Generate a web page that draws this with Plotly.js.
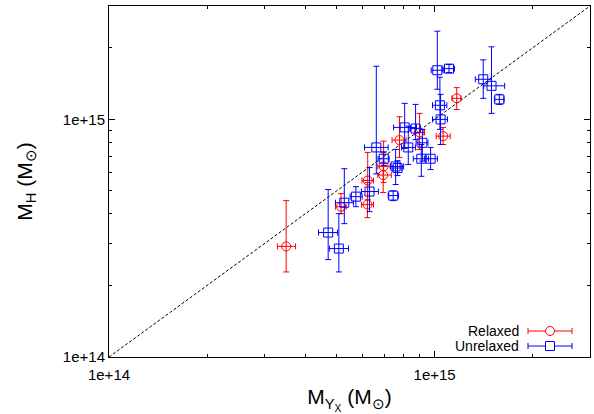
<!DOCTYPE html>
<html>
<head>
<meta charset="utf-8">
<script src="https://cdn.plot.ly/plotly-3.0.1.min.js"></script>
<style>html,body{margin:0;padding:0;background:#fff;}#chart{width:594px;height:414px;}</style>
</head>
<body>
<div id="chart"></div>
<script>
// Values in units of 1e14 solar masses
var relaxedX   = [3.50, 5.16, 6.23, 6.22, 6.97, 6.95, 7.80, 8.99, 10.62, 11.69];
var relaxedY   = [2.92, 4.29, 5.53, 4.38, 6.34, 5.83, 8.18, 8.81, 8.50, 12.26];
var relaxedXlo = [3.29, 4.96, 5.98, 5.96, 6.69, 6.69, 7.40, 8.67, 10.11, 11.30];
var relaxedXhi = [3.74, 5.35, 6.49, 6.49, 7.30, 7.36, 8.17, 9.31, 11.16, 12.05];
var relaxedYlo = [2.28, 4.01, 4.59, 3.86, 5.42, 4.92, 6.92, 7.47, 7.84, 11.00];
var relaxedYhi = [4.55, 4.87, 7.26, 5.42, 8.10, 7.26, 10.26, 10.60, 9.25, 13.60];

var unrelaxedX   = [4.71, 5.08, 5.28, 5.73, 6.31, 6.62, 6.98, 7.46, 7.59, 7.69, 8.09, 8.74, 8.30, 9.17, 9.10, 9.72, 10.19, 11.07, 10.38, 10.43, 14.10, 14.95, 15.80];
var unrelaxedY   = [3.34, 2.86, 4.46, 4.73, 4.97, 7.62, 6.83, 4.78, 6.34, 6.24, 9.25, 9.15, 7.62, 7.97, 6.83, 6.83, 16.10, 16.35, 11.46, 10.00, 14.75, 13.84, 12.14];
var unrelaxedXlo = [4.40, 4.75, 4.96, 5.50, 5.96, 6.09, 6.70, 7.20, 7.32, 7.45, 7.48, 8.43, 7.91, 8.77, 8.60, 9.30, 9.76, 10.60, 9.85, 9.85, 13.33, 14.15, 15.26];
var unrelaxedXhi = [5.03, 5.44, 5.63, 5.99, 6.72, 7.20, 7.25, 7.74, 8.03, 7.95, 8.80, 9.05, 8.74, 9.54, 9.57, 10.20, 10.62, 11.50, 10.90, 10.95, 14.93, 16.41, 16.34];
var unrelaxedYlo = [2.57, 2.28, 3.64, 4.29, 4.09, 5.90, 6.40, 4.55, 5.32, 5.80, 7.55, 8.22, 6.46, 6.67, 5.76, 6.15, 13.39, 15.74, 9.08, 7.84, 12.26, 10.60, 11.56];
var unrelaxedYhi = [5.07, 4.01, 6.20, 5.21, 6.27, 16.74, 7.30, 5.00, 7.47, 6.70, 11.68, 11.56, 9.37, 9.08, 7.84, 7.62, 23.50, 17.02, 15.04, 12.74, 17.80, 20.20, 12.74];

var unit = 1e14;
var diagonal = [1e14, 1e16];
var majorTicks = [1e14, 1e15];
var majorTickText = ['1e+14', '1e+15'];
var minorTicks = [2e14, 3e14, 4e14, 5e14, 6e14, 7e14, 8e14, 9e14, 2e15, 3e15];

function scale(a){ return a.map(function(v){ return v * unit; }); }
function diff(a, b){ return a.map(function(v, i){ return (v - b[i]) * unit; }); }

var RED = '#ff0000', BLUE = '#0000ff';

function seriesTrace(name, X, Y, Xlo, Xhi, Ylo, Yhi, color, symbol){
  return {
    type: 'scatter', mode: 'markers', name: name, showlegend: false,
    x: scale(X), y: scale(Y),
    marker: {symbol: symbol, size: 9, color: color, line: {color: color, width: 1}},
    error_x: {type: 'data', symmetric: false, array: diff(Xhi, X), arrayminus: diff(X, Xlo), color: color, thickness: 1, width: 3},
    error_y: {type: 'data', symmetric: false, array: diff(Yhi, Y), arrayminus: diff(Y, Ylo), color: color, thickness: 1, width: 3},
    cliponaxis: true
  };
}

var traces = [
  {type: 'scatter', mode: 'lines', x: diagonal, y: diagonal, showlegend: false, hoverinfo: 'skip',
   line: {color: '#000', width: 1, dash: '3px,2px'}},
  seriesTrace('Relaxed', relaxedX, relaxedY, relaxedXlo, relaxedXhi, relaxedYlo, relaxedYhi, RED, 'circle-open'),
  seriesTrace('Unrelaxed', unrelaxedX, unrelaxedY, unrelaxedXlo, unrelaxedXhi, unrelaxedYlo, unrelaxedYhi, BLUE, 'square-open')
];

var font = {family: '"Liberation Sans", Arial, sans-serif', color: '#000'};
function axis(titleText){
  return {
    type: 'log', range: [14, Math.log10(3e15)],
    tickmode: 'array', tickvals: majorTicks, ticktext: majorTickText,
    ticks: 'inside', ticklen: 6, tickwidth: 1, tickcolor: '#000',
    minor: {tickmode: 'array', tickvals: minorTicks, ticks: 'inside', ticklen: 3, tickwidth: 1, tickcolor: '#000', showgrid: false},
    showline: true, linecolor: '#000', linewidth: 1, mirror: 'ticks',
    showgrid: false, zeroline: false,
    tickfont: {family: font.family, size: 15, color: '#000'},
    title: {text: titleText, font: {family: font.family, size: 21, color: '#000'}}
  };
}

// legend (gnuplot style: text then sample)
function px2x(p){ return (p - 109) / 481; }
function py2y(p){ return (357 - p) / 351; }
var legendRows = [{label: 'Relaxed', color: RED, shape: 'circle', py: 331}, {label: 'Unrelaxed', color: BLUE, shape: 'rect', py: 346}];
var shapes = [], annotations = [];
legendRows.forEach(function(r){
  var yc = py2y(r.py);
  annotations.push({xref: 'paper', yref: 'paper', x: px2x(520), y: yc, xanchor: 'right', yanchor: 'middle',
    text: r.label, showarrow: false, borderpad: 0, font: {family: font.family, size: 14, color: '#000'}});
  shapes.push({type: 'line', xref: 'paper', yref: 'paper', x0: px2x(528), x1: px2x(572), y0: yc, y1: yc, line: {color: r.color, width: 1}});
  shapes.push({type: 'line', xref: 'paper', yref: 'paper', x0: px2x(528), x1: px2x(528), y0: yc - 3/351, y1: yc + 3/351, line: {color: r.color, width: 1}});
  shapes.push({type: 'line', xref: 'paper', yref: 'paper', x0: px2x(572), x1: px2x(572), y0: yc - 3/351, y1: yc + 3/351, line: {color: r.color, width: 1}});
  shapes.push({type: r.shape, xref: 'paper', yref: 'paper', x0: px2x(545.5), x1: px2x(554.5), y0: yc - 4.5/351, y1: yc + 4.5/351, fillcolor: '#fff', line: {color: r.color, width: 1}});
});

var layout = {
  width: 594, height: 414,
  margin: {l: 109, r: 4, t: 6, b: 57},
  paper_bgcolor: '#fff', plot_bgcolor: '#fff',
  font: font,
  showlegend: false,
  xaxis: axis('M<sub>Y<sub>X</sub></sub> (M<sub>⊙</sub>)'),
  yaxis: axis('M<sub>H</sub> (M<sub>⊙</sub>)'),
  shapes: shapes,
  annotations: annotations
};
layout.xaxis.title.standoff = 12;
layout.xaxis.ticklabelstandoff = 4;
layout.yaxis.title.standoff = 24;

Plotly.newPlot('chart', traces, layout, {staticPlot: true, displayModeBar: false});
</script>
</body>
</html>
